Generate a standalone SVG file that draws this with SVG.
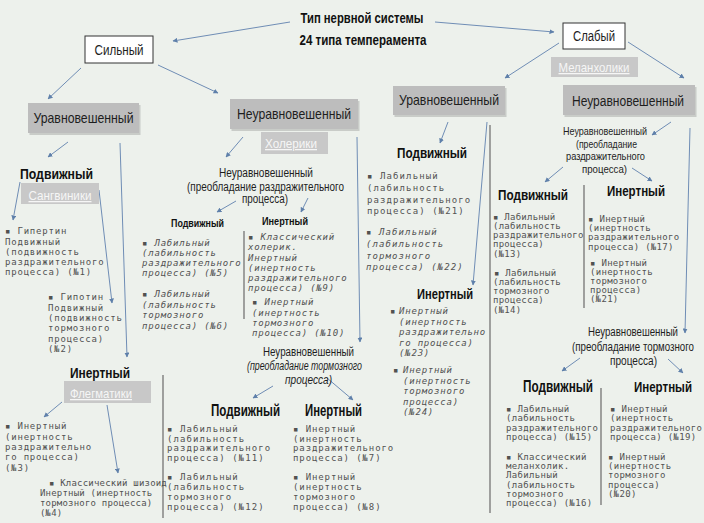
<svg xmlns="http://www.w3.org/2000/svg" width="704" height="523" viewBox="0 0 704 523">
<defs>
<marker id="ah" viewBox="0 0 10 10" refX="9" refY="5" markerWidth="5" markerHeight="5" orient="auto" markerUnits="userSpaceOnUse">
<path d="M0,0 L10,5 L0,10 z" fill="#5f80aa"/>
</marker>
<style>
.lb{font-family:"Liberation Sans",Arial,sans-serif;fill:#1e1e1e;text-anchor:middle}
.b{font-weight:bold;fill:#111}
.gbox{fill:#bdbdbd}
.tbox{fill:#c8c8c8}
.shd{fill:#b0b4b0;opacity:0.6}
.tag{font-family:"Liberation Sans",Arial,sans-serif;fill:#f6f6f6;text-anchor:middle;text-decoration:underline;font-size:13px}
.wbox{fill:#ffffff;stroke:#333;stroke-width:1}
.li{font-family:"DejaVu Sans Mono",monospace;font-size:9px;fill:#525252}
.it{font-style:italic}
.arr{stroke:#6f8db5;stroke-width:1;fill:none;marker-end:url(#ah)}
.sep{stroke:#6a6a6a;stroke-width:1.2}
</style>
</defs>
<rect width="704" height="523" fill="#edf1ec"/>

<g id="connectors">
<line class="arr" x1="290" y1="22" x2="173" y2="41"/>
<line class="arr" x1="435" y1="22" x2="554" y2="32"/>
<line class="arr" x1="81" y1="68" x2="48" y2="99"/>
<line class="arr" x1="158" y1="65" x2="218" y2="93"/>
<line class="arr" x1="559" y1="43" x2="505" y2="78"/>
<line class="arr" x1="628" y1="42" x2="684" y2="78"/>
<line class="arr" x1="68" y1="142" x2="48" y2="157"/>
<line class="arr" x1="120" y1="143" x2="127" y2="357"/>
<line class="arr" x1="20" y1="182" x2="13" y2="220"/>
<line class="arr" x1="99" y1="190" x2="112" y2="303"/>
<line class="arr" x1="62" y1="402" x2="44" y2="417"/>
<line class="arr" x1="107" y1="405" x2="118" y2="473"/>
<line class="arr" x1="243" y1="137" x2="226" y2="157"/>
<line class="arr" x1="357" y1="137" x2="360" y2="342"/>
<line class="arr" x1="236" y1="201" x2="217" y2="212"/>
<line class="arr" x1="308" y1="198" x2="301" y2="212"/>
<line class="arr" x1="273" y1="386" x2="253" y2="398"/>
<line class="arr" x1="327" y1="378" x2="353" y2="400"/>
<line class="arr" x1="448" y1="122" x2="440" y2="143"/>
<line class="arr" x1="487" y1="122" x2="473" y2="285"/>
<line class="arr" x1="671" y1="122" x2="652" y2="135"/>
<line class="arr" x1="690" y1="128" x2="685" y2="333"/>
<line class="arr" x1="563" y1="167" x2="545" y2="182"/>
<line class="arr" x1="632" y1="168" x2="652" y2="181"/>
<line class="arr" x1="580" y1="358" x2="562" y2="371"/>
<line class="arr" x1="668" y1="359" x2="683" y2="373"/>
<line class="sep" x1="490" y1="125" x2="490" y2="513"/>
<line class="sep" x1="584" y1="185" x2="584" y2="308"/>
<line class="sep" x1="601" y1="388" x2="601" y2="505"/>
<line class="sep" x1="244" y1="231" x2="244" y2="319"/>
<line class="sep" x1="163" y1="375" x2="163" y2="518"/>
</g>

<g id="title">
<text class="lb b" x="362" y="23" font-size="14" textLength="123" lengthAdjust="spacingAndGlyphs">Тип нервной системы</text>
<text class="lb b" x="363" y="45" font-size="14" textLength="127" lengthAdjust="spacingAndGlyphs">24 типа темперамента</text>
</g>

<g id="strong">
<rect class="wbox" x="85" y="36" width="68" height="27"/>
<text class="lb" x="119" y="55" font-size="14" textLength="49" lengthAdjust="spacingAndGlyphs">Сильный</text>
</g>
<g id="weak">
<rect class="wbox" x="563" y="23" width="62" height="26"/>
<text class="lb" x="594" y="41" font-size="14" textLength="42" lengthAdjust="spacingAndGlyphs">Слабый</text>
</g>

<g id="strong-balanced">
<rect class="shd" x="29.5" y="105" width="111" height="30"/>
<rect class="gbox" x="28" y="103" width="111" height="30"/>
<text class="lb" x="83.5" y="123" font-size="14.5" textLength="100" lengthAdjust="spacingAndGlyphs">Уравновешенный</text>
</g>
<g id="strong-unbalanced">
<rect class="shd" x="231.5" y="101" width="128" height="30"/>
<rect class="gbox" x="230" y="99" width="128" height="30"/>
<text class="lb" x="294" y="119" font-size="14.5" textLength="114" lengthAdjust="spacingAndGlyphs">Неуравновешенный</text>
</g>
<g id="cholerics">
<rect class="tbox" x="261" y="132" width="67" height="22"/>
<text class="tag" x="291" y="148" textLength="52" lengthAdjust="spacingAndGlyphs">Холерики</text>
</g>
<g id="weak-balanced">
<rect class="shd" x="394.5" y="88" width="112" height="29"/>
<rect class="gbox" x="393" y="86" width="112" height="29"/>
<text class="lb" x="449" y="105" font-size="14.5" textLength="100" lengthAdjust="spacingAndGlyphs">Уравновешенный</text>
</g>
<g id="weak-unbalanced">
<rect class="shd" x="564.5" y="87" width="132" height="30"/>
<rect class="gbox" x="563" y="85" width="132" height="30"/>
<text class="lb" x="628" y="106" font-size="14" textLength="112" lengthAdjust="spacingAndGlyphs">Неуравновешенный</text>
</g>
<g id="melancholics">
<rect class="tbox" x="551" y="57" width="87" height="20"/>
<text class="tag" x="594" y="72" textLength="71" lengthAdjust="spacingAndGlyphs">Меланхолики</text>
</g>

<g id="sb-mobile">
<text class="lb b" x="56.5" y="179" font-size="15" textLength="73" lengthAdjust="spacingAndGlyphs">Подвижный</text>
<rect class="tbox" x="21" y="183" width="78" height="21"/>
<text class="tag" x="60" y="200" textLength="63" lengthAdjust="spacingAndGlyphs">Сангвиники</text>
</g>
<g id="t1">
<text class="li" style="letter-spacing:0.8px"><tspan x="5" y="234">▪ Гипертин</tspan><tspan x="5" y="244.5">Подвижный</tspan><tspan x="5" y="254.5">(подвижность</tspan><tspan x="5" y="264.5">раздражительного</tspan><tspan x="5" y="275">процесса) (№1)</tspan></text>
</g>
<g id="t2">
<text class="li" style="letter-spacing:0.8px"><tspan x="48" y="300">▪ Гипотин</tspan><tspan x="48" y="310.5">Подвижный</tspan><tspan x="48" y="321">(подвижность</tspan><tspan x="48" y="331">тормозного</tspan><tspan x="48" y="341.5">процесса)</tspan><tspan x="48" y="352">(№2)</tspan></text>
</g>
<g id="sb-inert">
<text class="lb b" x="100" y="378" font-size="15" textLength="60" lengthAdjust="spacingAndGlyphs">Инертный</text>
<rect class="tbox" x="64" y="381" width="87" height="22"/>
<text class="tag" x="101" y="398" textLength="62" lengthAdjust="spacingAndGlyphs">Флегматики</text>
</g>
<g id="t3">
<text class="li" style="letter-spacing:0.8px"><tspan x="5" y="429">▪ Инертный</tspan><tspan x="5" y="440">(инертность</tspan><tspan x="5" y="450">раздражительно</tspan><tspan x="5" y="460">го процесса)</tspan><tspan x="5" y="471">(№3)</tspan></text>
</g>
<g id="t4">
<text class="li" style="letter-spacing:0.2px"><tspan x="49" y="486">▪ Классический шизоид</tspan><tspan x="40" y="496">Инертный (инертность</tspan><tspan x="40" y="506">тормозного процесса)</tspan><tspan x="40" y="516">(№4)</tspan></text>
</g>

<g id="su-excit">
<text class="lb" x="266" y="177" font-size="12" textLength="94" lengthAdjust="spacingAndGlyphs">Неуравновешенный</text>
<text class="lb" x="265.5" y="191" font-size="12" textLength="157" lengthAdjust="spacingAndGlyphs">(преобладание раздражительного</text>
<text class="lb" x="265" y="203" font-size="12" textLength="46" lengthAdjust="spacingAndGlyphs">процесса)</text>
</g>
<g id="su-excit-mobile">
<text class="lb b" x="197.5" y="227" font-size="11.5" textLength="53" lengthAdjust="spacingAndGlyphs">Подвижный</text>
</g>
<g id="su-excit-inert">
<text class="lb b" x="285" y="225" font-size="11.5" textLength="46" lengthAdjust="spacingAndGlyphs">Инертный</text>
</g>
<g id="t5">
<text class="li it" style="letter-spacing:0.8px"><tspan x="142" y="246">▪ Лабильный</tspan><tspan x="142" y="256">(лабильность</tspan><tspan x="142" y="266">раздражительного</tspan><tspan x="142" y="276">процесса) (№5)</tspan></text>
</g>
<g id="t6">
<text class="li it" style="letter-spacing:0.8px"><tspan x="142" y="297">▪ Лабильный</tspan><tspan x="142" y="307.5">(лабильность</tspan><tspan x="142" y="318">тормозного</tspan><tspan x="142" y="328.5">процесса) (№6)</tspan></text>
</g>
<g id="t9">
<text class="li it" style="letter-spacing:0.8px"><tspan x="248" y="240">▪ Классический</tspan><tspan x="248" y="250">холерик.</tspan><tspan x="248" y="260.5">Инертный</tspan><tspan x="248" y="270.5">(инертность</tspan><tspan x="248" y="281">раздражительного</tspan><tspan x="248" y="291">процесса) (№9)</tspan></text>
</g>
<g id="t10">
<text class="li it" style="letter-spacing:0.8px"><tspan x="252" y="305">▪ Инертный</tspan><tspan x="252" y="316">(инертность</tspan><tspan x="252" y="326">тормозного</tspan><tspan x="252" y="336">процесса) (№10)</tspan></text>
</g>

<g id="su-inhib">
<text class="lb" x="308.5" y="356" font-size="12" textLength="91" lengthAdjust="spacingAndGlyphs">Неуравновешенный</text>
<text class="lb it" x="304.5" y="370" font-size="12" textLength="115" lengthAdjust="spacingAndGlyphs">(преобладание тормозного</text>
<text class="lb it" x="308.5" y="384" font-size="12" textLength="47" lengthAdjust="spacingAndGlyphs">процесса)</text>
</g>
<g id="su-inhib-mobile">
<text class="lb b" x="245.5" y="416" font-size="16" textLength="69" lengthAdjust="spacingAndGlyphs">Подвижный</text>
</g>
<g id="su-inhib-inert">
<text class="lb b" x="333.5" y="416" font-size="16" textLength="57" lengthAdjust="spacingAndGlyphs">Инертный</text>
</g>
<g id="t11">
<text class="li" style="letter-spacing:1.1px"><tspan x="167" y="432">▪ Лабильный</tspan><tspan x="167" y="441.5">(лабильность</tspan><tspan x="167" y="451">раздражительного</tspan><tspan x="167" y="461">процесса) (№11)</tspan></text>
</g>
<g id="t12">
<text class="li" style="letter-spacing:1.1px"><tspan x="167" y="480">▪ Лабильный</tspan><tspan x="167" y="490">(лабильность</tspan><tspan x="167" y="500">тормозного</tspan><tspan x="167" y="510">процесса) (№12)</tspan></text>
</g>
<g id="t7">
<text class="li" style="letter-spacing:0.9px"><tspan x="293" y="432">▪ Инертный</tspan><tspan x="293" y="441.5">(инертность</tspan><tspan x="293" y="451">раздражительного</tspan><tspan x="293" y="461">процесса) (№7)</tspan></text>
</g>
<g id="t8">
<text class="li" style="letter-spacing:0.9px"><tspan x="293" y="480">▪ Инертный</tspan><tspan x="293" y="490">(инертность</tspan><tspan x="293" y="500">тормозного</tspan><tspan x="293" y="510">процесса) (№8)</tspan></text>
</g>

<g id="wb-mobile">
<text class="lb b" x="432" y="158" font-size="15" textLength="70" lengthAdjust="spacingAndGlyphs">Подвижный</text>
</g>
<g id="t21a">
<text class="li" style="letter-spacing:1.1px"><tspan x="367" y="179">▪ Лабильный</tspan><tspan x="367" y="191">(лабильность</tspan><tspan x="367" y="203">раздражительного</tspan><tspan x="367" y="214">процесса) (№21)</tspan></text>
</g>
<g id="t22">
<text class="li it" style="letter-spacing:1.1px"><tspan x="366" y="235">▪ Лабильный</tspan><tspan x="366" y="247">(лабильность</tspan><tspan x="366" y="259">тормозного</tspan><tspan x="366" y="270">процесса) (№22)</tspan></text>
</g>
<g id="wb-inert">
<text class="lb b" x="445" y="299" font-size="15" textLength="56" lengthAdjust="spacingAndGlyphs">Инертный</text>
</g>
<g id="t23">
<text class="li it" style="letter-spacing:0.8px"><tspan x="390" y="314">▪</tspan><tspan x="399" y="314">Инертный</tspan><tspan x="399" y="325">(инертность</tspan><tspan x="399" y="335">раздражительно</tspan><tspan x="399" y="345.5">го процесса)</tspan><tspan x="399" y="356">(№23)</tspan></text>
</g>
<g id="t24">
<text class="li it" style="letter-spacing:0.8px"><tspan x="393" y="373">▪</tspan><tspan x="403" y="373">Инертный</tspan><tspan x="403" y="384">(инертность</tspan><tspan x="403" y="394">тормозного</tspan><tspan x="403" y="405">процесса)</tspan><tspan x="403" y="415">(№24)</tspan></text>
</g>

<g id="wu-excit">
<text class="lb" x="605" y="135" font-size="11" textLength="84" lengthAdjust="spacingAndGlyphs">Неуравновешенный</text>
<text class="lb" x="606.5" y="148" font-size="11" textLength="61" lengthAdjust="spacingAndGlyphs">(преобладание</text>
<text class="lb" x="605.5" y="160" font-size="11" textLength="79" lengthAdjust="spacingAndGlyphs">раздражительного</text>
<text class="lb" x="604.5" y="173" font-size="11" textLength="45" lengthAdjust="spacingAndGlyphs">процесса)</text>
</g>
<g id="wu-excit-mobile">
<text class="lb b" x="533" y="200" font-size="15" textLength="70" lengthAdjust="spacingAndGlyphs">Подвижный</text>
</g>
<g id="wu-excit-inert">
<text class="lb b" x="636" y="196" font-size="15" textLength="58" lengthAdjust="spacingAndGlyphs">Инертный</text>
</g>
<g id="t13">
<text class="li" style="letter-spacing:0.25px"><tspan x="493" y="220">▪ Лабильный</tspan><tspan x="493" y="229">(лабильность</tspan><tspan x="493" y="238">раздражительного</tspan><tspan x="493" y="247">процесса)</tspan><tspan x="493" y="256.5">(№13)</tspan></text>
</g>
<g id="t14">
<text class="li" style="letter-spacing:0.25px"><tspan x="494" y="276">▪ Лабильный</tspan><tspan x="493" y="285">(лабильность</tspan><tspan x="493" y="294">тормозного</tspan><tspan x="493" y="303">процесса)</tspan><tspan x="493" y="313">(№14)</tspan></text>
</g>
<g id="t17">
<text class="li" style="letter-spacing:0.3px"><tspan x="588" y="222">▪ Инертный</tspan><tspan x="588" y="231">(инертность</tspan><tspan x="588" y="240">раздражительного</tspan><tspan x="588" y="250">процесса) (№17)</tspan></text>
</g>
<g id="t21b">
<text class="li" style="letter-spacing:0.3px"><tspan x="590" y="266">▪ Инертный</tspan><tspan x="590" y="275">(инертность</tspan><tspan x="590" y="284">тормозного</tspan><tspan x="590" y="293">процесса)</tspan><tspan x="590" y="302">(№21)</tspan></text>
</g>

<g id="wu-inhib">
<text class="lb" x="633" y="336" font-size="12.5" textLength="90" lengthAdjust="spacingAndGlyphs">Неуравновешенный</text>
<text class="lb" x="633" y="351" font-size="12" textLength="122" lengthAdjust="spacingAndGlyphs">(преобладание тормозного</text>
<text class="lb" x="633.5" y="365" font-size="12.5" textLength="47" lengthAdjust="spacingAndGlyphs">процесса)</text>
</g>
<g id="wu-inhib-mobile">
<text class="lb b" x="558" y="392" font-size="16" textLength="70" lengthAdjust="spacingAndGlyphs">Подвижный</text>
</g>
<g id="wu-inhib-inert">
<text class="lb b" x="663" y="392" font-size="15" textLength="58" lengthAdjust="spacingAndGlyphs">Инертный</text>
</g>
<g id="t15">
<text class="li" style="letter-spacing:0.35px"><tspan x="506" y="412">▪ Лабильный</tspan><tspan x="506" y="421">(лабильность</tspan><tspan x="506" y="431">раздражительного</tspan><tspan x="506" y="440">процесса) (№15)</tspan></text>
</g>
<g id="t16">
<text class="li" style="letter-spacing:0.35px"><tspan x="506" y="460">▪ Классический</tspan><tspan x="506" y="469">меланхолик.</tspan><tspan x="506" y="478">Лабильный</tspan><tspan x="506" y="488">(лабильность</tspan><tspan x="506" y="497">тормозного</tspan><tspan x="506" y="506">процесса) (№16)</tspan></text>
</g>
<g id="t19">
<text class="li" style="letter-spacing:0.35px"><tspan x="610" y="412">▪ Инертный</tspan><tspan x="610" y="421">(инертность</tspan><tspan x="610" y="431">раздражительного</tspan><tspan x="610" y="440">процесса) (№19)</tspan></text>
</g>
<g id="t20">
<text class="li" style="letter-spacing:0.35px"><tspan x="608" y="460">▪ Инертный</tspan><tspan x="608" y="469">(инертность</tspan><tspan x="608" y="478">тормозного</tspan><tspan x="608" y="488">процесса)</tspan><tspan x="608" y="497">(№20)</tspan></text>
</g>
</svg>
